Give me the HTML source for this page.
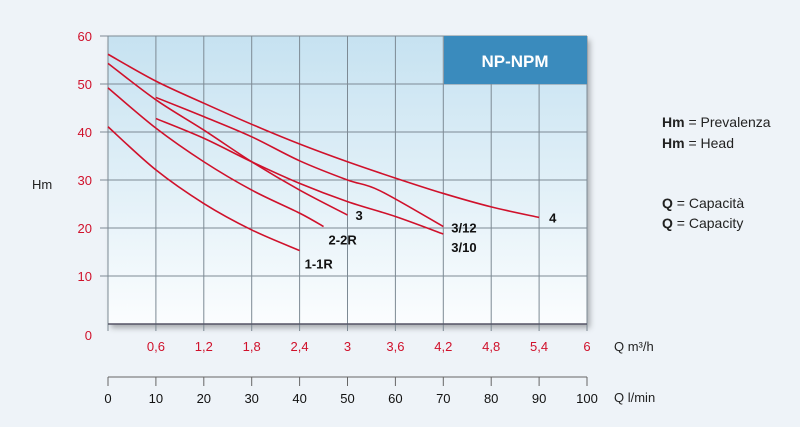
<!DOCTYPE html>
<html><head><meta charset="utf-8"><style>
body{margin:0;background:#eef3f8;}
svg{display:block;font-family:"Liberation Sans Narrow","Liberation Sans",sans-serif;}
</style></head><body>
<svg id="c" width="800" height="427" viewBox="0 0 800 427">
<defs>
<linearGradient id="bg" x1="0" y1="0" x2="0" y2="1"><stop offset="0" stop-color="#c6e2f1"/><stop offset="1" stop-color="#fbfdfe"/></linearGradient>
<filter id="sh" x="-5%" y="-5%" width="115%" height="120%"><feDropShadow dx="3" dy="4" stdDeviation="3" flood-color="#000" flood-opacity="0.3"/></filter>
</defs>
<rect width="800" height="427" fill="#eef3f8"/>
<rect x="108" y="36" width="479" height="288" fill="url(#bg)" filter="url(#sh)"/>
<g id="grid"></g>
<rect x="444" y="36" width="143" height="48" fill="#3a8bbd"/>
<text x="515" y="67" text-anchor="middle" fill="#fff" font-weight="bold" font-size="17">NP-NPM</text>
<g id="curves"></g>
<g id="labels" font-weight="bold" font-size="13" fill="#111"></g>
<text x="32" y="189" font-size="13" fill="#222">Hm</text>
<text x="614" y="351" font-size="13" fill="#222">Q m³/h</text>
<text x="614" y="402" font-size="13" fill="#222">Q l/min</text>
<g font-size="14" fill="#222">
<text x="662" y="127"><tspan font-weight="bold">Hm</tspan> = Prevalenza</text>
<text x="662" y="148"><tspan font-weight="bold">Hm</tspan> = Head</text>
<text x="662" y="208"><tspan font-weight="bold">Q</tspan> = Capacità</text>
<text x="662" y="228"><tspan font-weight="bold">Q</tspan> = Capacity</text>
</g>
</svg>
<script>
const yTicks=[0,10,20,30,40,50,60];
const m3hTicks=["0,6","1,2","1,8","2,4","3","3,6","4,2","4,8","5,4","6"];
const lminTicks=[0,10,20,30,40,50,60,70,80,90,100];
const seriesNames=["4","3/12","3/10","3","2-2R","1-1R"];
const q4=[0,10,20,30,40,50,60,70,80,90];
const h4=[56.2,50.6,46,41.6,37.5,33.8,30.4,27.2,24.4,22.2];
const q312=[10,20,30,40,50,56.7,70];
const h312=[47.2,43.2,39,34,30,27.8,20.3];
const q310=[10,20,30,40,50,60,70];
const h310=[42.8,38.7,33.8,29.3,25.5,22.4,18.75];
const q3=[0,10,20,30,40,50];
const h3=[54.3,46.7,40.4,33.8,27.9,22.7];
const q2=[0,10,20,30,40,45];
const h2=[49.2,40.8,33.8,27.9,23.1,20.3];
const q1=[0,10,20,30,40];
const h1=[41.1,32.1,25.1,19.6,15.3];
const NS="http://www.w3.org/2000/svg";
const X0=108,X1=587,Y0=324,Y1=36;
const xs=v=>X0+(X1-X0)*v/100, ys=v=>Y0-(Y0-Y1)*v/60;
function mk(t,a,p){const e=document.createElementNS(NS,t);for(const k in a)e.setAttribute(k,a[k]);(p||document.getElementById('c')).appendChild(e);return e;}
const grid=document.getElementById('grid');
yTicks.forEach((v,i)=>{
 if(v>0){const l=mk('line',{x1:X0-8,x2:X1,y1:ys(v),y2:ys(v),stroke:'#7d8a94','stroke-width':1},grid);
 
 }
 const t=mk('text',{x:92,y:ys(v)+(v?5:16),'text-anchor':'end',fill:'#d0112b','font-size':13},grid);t.textContent=v;
 
 
});
lminTicks.forEach((v,i)=>{
 const l=mk('line',{x1:xs(v),x2:xs(v),y1:Y1,y2:Y0+7,stroke:'#7d8a94','stroke-width':1},grid);
 
 
 const k=mk('line',{x1:xs(v),x2:xs(v),y1:377,y2:386,stroke:'#666'},grid);
 
 
 const t=mk('text',{x:xs(v),y:403,'text-anchor':'middle',fill:'#111','font-size':13},grid);t.textContent=v;
 
 
 if(i>0){const m=mk('text',{x:xs(v),y:351,'text-anchor':'middle',fill:'#d0112b','font-size':13},grid);m.textContent=m3hTicks[i-1];
 
 }
});
const ax=mk('line',{x1:X0,x2:X1,y1:377,y2:377,stroke:'#666'},grid);


const bx=mk('line',{x1:X0,x2:X1,y1:Y0,y2:Y0,stroke:'#556','stroke-width':1.5},grid);


function path(q,h){const p=q.map((v,i)=>[xs(v),ys(h[i])]);let d=`M${p[0][0]},${p[0][1]}`;
 for(let i=0;i<p.length-1;i++){const a=p[i-1]||p[i],b=p[i],c=p[i+1],e=p[i+2]||c;
 d+=` C${b[0]+(c[0]-a[0])/6},${b[1]+(c[1]-a[1])/6} ${c[0]-(e[0]-b[0])/6},${c[1]-(e[1]-b[1])/6} ${c[0]},${c[1]}`;}return d;}
const cg=document.getElementById('curves');
const all=[[q4,h4],[q312,h312],[q310,h310],[q3,h3],[q2,h2],[q1,h1]];
const names=['curve-4','curve-3-12','curve-3-10','curve-3','curve-2-2r','curve-1-1r'];
all.forEach((s,i)=>{const p=mk('path',{d:path(s[0],s[1]),fill:'none',stroke:'#d0112b','stroke-width':1.6},cg);
 
 });
const lg=document.getElementById('labels');
const offs=[[10,5],[8,6],[8,18],[8,5],[5,18],[5,18]];
all.forEach((s,i)=>{const n=s[0].length-1;const t=mk('text',{x:xs(s[0][n])+offs[i][0],y:ys(s[1][n])+offs[i][1]},lg);t.textContent=seriesNames[i];
 
 });
</script>
</body></html>
